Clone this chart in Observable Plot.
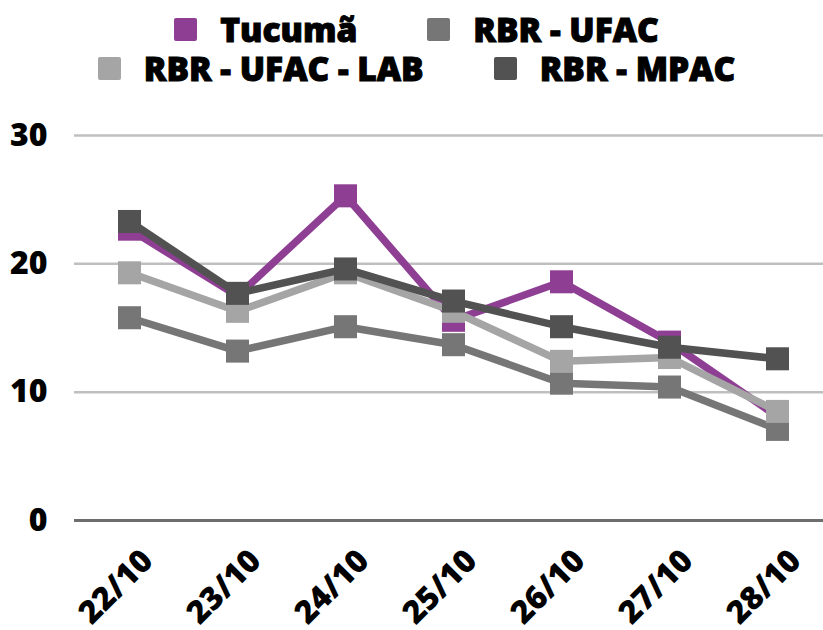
<!DOCTYPE html>
<html>
<head>
<meta charset="utf-8">
<script src="https://cdn.jsdelivr.net/npm/d3@7"></script>
<script src="https://cdn.jsdelivr.net/npm/@observablehq/plot@0.6"></script>
<style>
  html, body { margin: 0; padding: 0; background: #fff; }
  body { width: 823px; height: 630px; overflow: hidden; font-family: "Open Sans", sans-serif; }
  #legend { height: 100px; position: relative; }
  .row { position: absolute; left: 0; width: 823px; display: flex; justify-content: center; align-items: center; padding-left: 10px; box-sizing: border-box; }
  .item { display: flex; align-items: center; margin: 0 35px; }
  .sw { width: 23px; height: 23px; border-radius: 2px; margin-right: 23px; }
  .lab { font-size: 33.5px; font-weight: 800; color: #000; line-height: 1; -webkit-text-stroke: 1px #000; }
  svg text { paint-order: stroke; }
</style>
</head>
<body>
<div id="legend"></div>
<div id="chart"></div>
<script>
const dates = ["22/10", "23/10", "24/10", "25/10", "26/10", "27/10", "28/10"];
const tucuma = [22.7, 17.5, 25.3, 15.6, 18.6, 13.9, 8.1];
const rbrUfac = [15.8, 13.2, 15.1, 13.7, 10.7, 10.4, 7.1];
const rbrUfacLab = [19.3, 16.3, 19.3, 16.3, 12.4, 12.7, 8.5];
const rbrMpac = [23.3, 17.7, 19.6, 17.1, 15.1, 13.5, 12.6];
const seriesNames = ["Tucumã", "RBR - UFAC", "RBR - UFAC - LAB", "RBR - MPAC"];
const seriesColors = ["#8e3f93", "#767676", "#a5a5a5", "#525252"];
const yTicks = [0, 10, 20, 30];

const seriesValues = [tucuma, rbrUfac, rbrUfacLab, rbrMpac];
const rows = seriesNames.flatMap((name, i) =>
  dates.map((d, j) => ({series: name, date: d, value: seriesValues[i][j]}))
);

// Legend (two rows)
const legend = document.getElementById("legend");
const legendRows = [[0, 1], [2, 3]];
legendRows.forEach((idxs, r) => {
  const row = document.createElement("div");
  row.className = "row";
  row.style.top = (r === 0 ? 13 : 52) + "px";
  idxs.forEach(i => {
    const it = document.createElement("div");
    it.className = "item";
    it.innerHTML = `<div class="sw" style="background:${seriesColors[i]}"></div><div class="lab">${seriesNames[i]}</div>`;
    row.appendChild(it);
  });
  legend.appendChild(row);
});

const marks = [
  Plot.ruleY(yTicks.filter(t => t > 0), {stroke: "#bfbfbf", strokeWidth: 2.5}),
  Plot.ruleY([0], {stroke: "#6d6d6d", strokeWidth: 3}),
  Plot.axisY({ticks: yTicks, tickSize: 0, tickPadding: 27, fontSize: 32, fontWeight: 800, fill: "#000", stroke: "#000", strokeWidth: 1}),
  Plot.axisX({tickSize: 0, tickRotate: -45, tickPadding: 35, dx: 18, fontSize: 32, fontWeight: 800, fill: "#000", stroke: "#000", strokeWidth: 1})
];
seriesNames.forEach((name, i) => {
  const data = rows.filter(d => d.series === name);
  marks.push(Plot.line(data, {x: "date", y: "value", stroke: seriesColors[i], strokeWidth: 7.5, strokeLinejoin: "miter"}));
  marks.push(Plot.dot(data, {x: "date", y: "value", symbol: "square", r: 13, fill: seriesColors[i], stroke: "none"}));
});

const chart = Plot.plot({
  width: 823,
  height: 530,
  marginLeft: 74,
  marginRight: 0,
  marginTop: 35,
  marginBottom: 110,
  style: {fontFamily: "'Open Sans', sans-serif", background: "#fff", overflow: "visible"},
  x: {type: "point", domain: dates, range: [128, 777], padding: 0, label: null},
  y: {domain: [0, 30], label: null},
  marks
});
document.getElementById("chart").appendChild(chart);
</script>
</body>
</html>
